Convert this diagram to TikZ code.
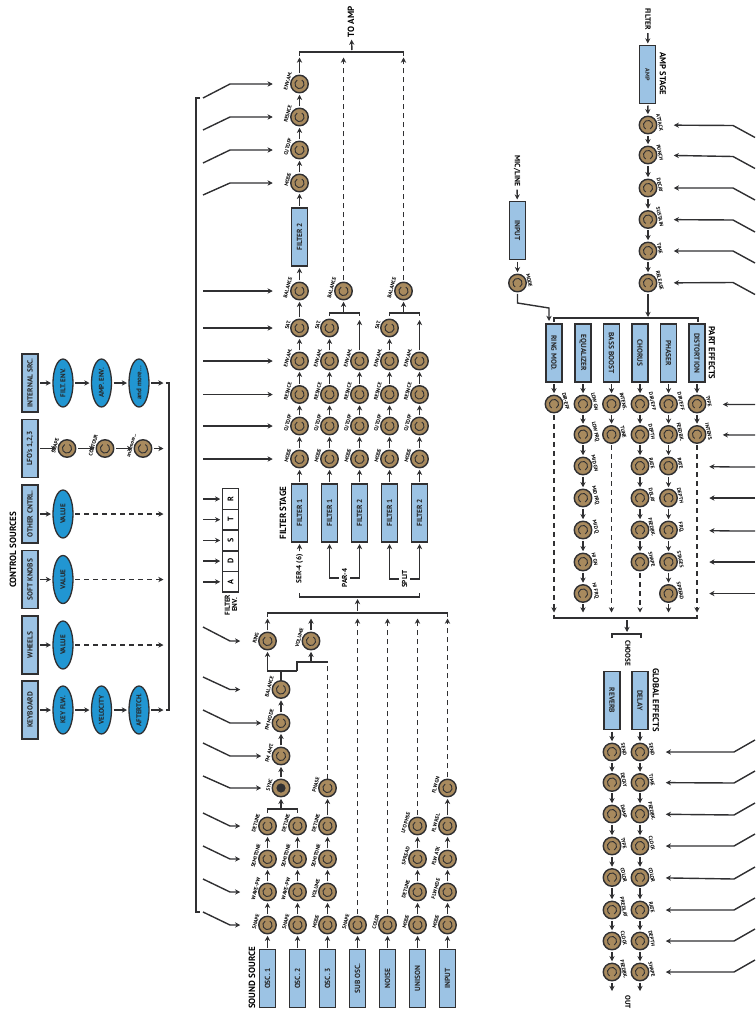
\documentclass[tikz,border=0pt]{standalone}
\usepackage{fontspec}
\setmainfont{PT Sans}
\usetikzlibrary{arrows.meta,shapes.geometric}
\definecolor{dk}{HTML}{303032}
\definecolor{boxblue}{HTML}{9CC3E4}
\definecolor{ellblue}{HTML}{2196D2}
\definecolor{knobtan}{HTML}{A88A5E}
\newcommand\krad{10.2pt}
\tikzset{
  sig/.style={draw=dk,line width=1.4pt},
  arr/.style={sig,-{Stealth[length=5.2pt,width=5.2pt]},shorten >=2pt,shorten <=2pt},
  dsh/.style={dash pattern=on 5pt off 4pt},
  lev/.style={sig,-{Stealth[length=5.2pt,width=5.2pt]}},
  boxbase/.style={draw=dk,line width=1.6pt,fill=boxblue,minimum width=58pt,minimum height=16pt,inner sep=0pt,outer sep=0pt,text=black!85,font=\fontsize{7.4}{8}\selectfont\bfseries},
  boxl/.style={boxbase,rotate=90},
  boxr/.style={boxbase,rotate=-90},
  ell/.style={ellipse,draw=dk,line width=1.3pt,fill=ellblue,minimum width=48pt,minimum height=20pt,inner sep=0pt,outer sep=0pt,rotate=90,text=black!85,font=\fontsize{7}{8}\selectfont\bfseries},
  knob/.style={circle,draw=dk,line width=1.4pt,fill=knobtan,minimum size=17.5pt,inner sep=0pt,outer sep=0pt},
  ring/.style={draw=dk,line width=0.9pt},
  klab/.style={inner sep=0pt,outer sep=0pt,anchor=south,font=\fontsize{5.2}{5.5}\selectfont\bfseries},
  envb/.style={draw=dk,line width=1.3pt,fill=white,minimum width=20.5pt,minimum height=16.5pt,inner sep=0pt,outer sep=0pt,rotate=90,font=\fontsize{8}{9}\selectfont\bfseries},
  title/.style={inner sep=1pt,rotate=90,font=\fontsize{9}{10}\selectfont\bfseries},
  titler/.style={inner sep=1pt,rotate=-90,font=\fontsize{8.6}{10}\selectfont\bfseries},
  small/.style={inner sep=1pt,rotate=90,align=center,font=\fontsize{7.2}{7.4}\selectfont\bfseries},
}
% knob on the left half of the page (ring opens upward, label on the left)
\newcommand\kl[4]{\node[knob] (#1) at (#2,#3) {};
  \draw[ring] (#1.center) ++(120:4.6pt) arc[start angle=120,end angle=420,radius=4.6pt];
  \path (#1.center) ++(165:\krad) node[klab,rotate=75] (#1-t) {#4};}
% knob on the right half of the page (ring opens downward, label on the right)
\newcommand\kr[4]{\node[knob] (#1) at (#2,#3) {};
  \draw[ring] (#1.center) ++(-60:4.6pt) arc[start angle=-60,end angle=240,radius=4.6pt];
  \path (#1.center) ++(12:\krad) node[klab,rotate=-78] (#1-t) {#4};}
% modulation lever: from free end, by knee, to a knob, stopping short of it
\newcommand\lever[6]{\coordinate (#1-s) at (#2,#3); \coordinate (#1-k) at (#4,#5);
  \draw[lev,shorten >=#6pt] (#1-s) -- (#1-k) -- (#1);}
\begin{document}
\begin{tikzpicture}[x=1pt,y=-1pt]
\useasboundingbox (0,0) rectangle (755,1012);

%% ---------- CONTROL SOURCES ----------
\node[title] (ctitle) at (13,550) {CONTROL SOURCES};
\node[boxl] (cint) at (30,383) {INTERNAL SRC.};
\node[boxl] (clfo) at (30,448.5) {LFO's 1,2,3};
\node[boxl] (coth) at (30,514) {OTHER CNTRL.};
\node[boxl] (csof) at (30,579.5) {SOFT KNOBS};
\node[boxl] (cwhe) at (30,645) {WHEELS};
\node[boxl] (ckey) at (30,710) {KEYBOARD};
\node[ell] (e1) at (63,383) {FILT. ENV.};
\node[ell] (e2) at (101.5,383) {AMP. ENV.};
\node[ell] (e3) at (139,383) {and more...};
\kl{l1}{67}{448.5}{SHAPE} \kl{l2}{105}{448.5}{CONTOUR} \kl{l3}{143}{448.5}{and more...}
\node[ell] (e4) at (63,514) {VALUE};
\node[ell] (e5) at (63,579.5) {VALUE};
\node[ell] (e6) at (63,645) {VALUE};
\node[ell] (e7) at (63,710) {KEY FLW.};
\node[ell] (e8) at (101.5,710) {VELOCITY};
\node[ell] (e9) at (139,710) {AFTERTCH.};
\foreach \a/\b in {cint/e1,e1/e2,e2/e3,clfo/l1,l1/l2,l2/l3,coth/e4,csof/e5,cwhe/e6,ckey/e7,e7/e8,e8/e9}{\draw[arr] (\a)--(\b);}
\coordinate (t1) at (165.5,383); \coordinate (t2) at (165.5,448.5); \coordinate (t3) at (165.5,514);
\coordinate (t4) at (165.5,579.5); \coordinate (t5) at (165.5,645); \coordinate (t6) at (165.5,710);
\coordinate (vtop) at (169,383); \coordinate (vbot) at (169,710);
\draw[arr] (e3)--(t1); \draw[arr] (l3)--(t2); \draw[arr] (e9)--(t6);
\draw[arr,dsh] (e4)--(t3); \draw[arr,dsh] (e5)--(t4); \draw[arr,dsh] (e6)--(t5);
\draw[sig] (t1)--(vtop)--(vbot)--(t6);

%% ---------- main modulation bus ----------
\coordinate (busT) at (200,98); \coordinate (busTc) at (196,98);
\coordinate (busB) at (200,912); \coordinate (busBc) at (196,912);
\draw[sig] (busT)--(busTc)--(busBc)--(busB);

%% ---------- FILTER ENV ----------
\node[envb] (eR) at (230.5,499) {R}; \node[envb] (eT) at (230.5,519.7) {T};
\node[envb] (eS) at (230.5,540.4) {S}; \node[envb] (eD) at (230.5,561.1) {D};
\node[envb] (eA) at (230.5,581.8) {A};
\node[small] (eTxt) at (231,605) {FILTER\\ENV.};
\foreach \n/\y in {eR/499,eT/519.7,eS/540.4,eD/561.1,eA/581.8}{
  \coordinate (\n-s) at (203,\y); \draw[lev,shorten >=2pt] (\n-s)--(\n);}

%% ---------- SOUND SOURCE ----------
\node[title] (stitle) at (252,978) {SOUND SOURCE};
\node[boxl] (bs1) at (267.5,978.5) {OSC. 1};
\node[boxl] (bs2) at (297.5,978.5) {OSC. 2};
\node[boxl] (bs3) at (327.5,978.5) {OSC. 3};
\node[boxl] (bs4) at (357.5,978.5) {SUB OSC.};
\node[boxl] (bs5) at (387.5,978.5) {NOISE};
\node[boxl] (bs6) at (417.5,978.5) {UNISON};
\node[boxl] (bs7) at (447.5,978.5) {INPUT};
\kl{s1a}{267.5}{925}{SHAPE} \kl{s1b}{267.5}{892}{WAVE-PW} \kl{s1c}{267.5}{859}{SEMITONE} \kl{s1d}{267.5}{826}{DETUNE}
\kl{s2a}{297.5}{925}{SHAPE} \kl{s2b}{297.5}{892}{WAVE-PW} \kl{s2c}{297.5}{859}{SEMITONE} \kl{s2d}{297.5}{826}{DETUNE}
\kl{s3a}{327.5}{925}{MODE} \kl{s3b}{327.5}{892}{VOLUME} \kl{s3c}{327.5}{859}{SEMITONE} \kl{s3d}{327.5}{826}{DETUNE}
\kl{phase}{327.5}{788}{PHASE}
\kl{s4a}{357.5}{925}{SHAPE} \kl{s5a}{387.5}{925}{COLOR}
\kl{s6a}{417.5}{925}{MODE} \kl{s6b}{417.5}{892}{DETUNE} \kl{s6c}{417.5}{859}{SPREAD} \kl{s6d}{417.5}{826}{LFO PHSE}
\kl{s7a}{447.5}{925}{MODE} \kl{s7b}{447.5}{892}{FLW MDE} \kl{s7c}{447.5}{859}{FLW ATK} \kl{s7d}{447.5}{826}{FLW REL}
\kl{s7e}{447.5}{788}{FLW GN}
\node[knob] (sync) at (281,788) {};
\fill[dk] (sync.center) circle[radius=4.6pt];
\path (sync.center) ++(165:\krad) node[klab,rotate=75] (sync-t) {SYNC};
\kl{fmamt}{281}{756}{FM AMT.} \kl{fmmode}{281}{723}{FM MODE} \kl{bal}{281}{689.5}{BALANCE}
\kl{ring}{267.5}{641}{RING} \kl{vol}{311}{641}{VOLUME}
\foreach \a/\b in {bs1/s1a,s1a/s1b,s1b/s1c,s1c/s1d,bs2/s2a,s2a/s2b,s2b/s2c,s2c/s2d,bs3/s3a,s3a/s3b,s3b/s3c,s3c/s3d,s3d/phase,
  bs4/s4a,bs5/s5a,bs6/s6a,s6a/s6b,s6b/s6c,s6c/s6d,bs7/s7a,s7a/s7b,s7b/s7c,s7c/s7d,s7d/s7e,sync/fmamt,fmamt/fmmode,fmmode/bal}{\draw[arr] (\a)--(\b);}
% oscillator 1+2 into sync
\coordinate (o1) at (267.5,813); \coordinate (o2) at (297.5,813); \coordinate (om) at (281,809);
\draw[sig] (o1)--++(0,-4)-|(o2);
\draw[arr,shorten <=0pt] (om)--(sync);
% balance split
\coordinate (j0) at (281,671); \coordinate (jl) at (267.5,671); \coordinate (jr) at (297,671);
\coordinate (jv) at (297,662); \coordinate (jp) at (327.5,662); \coordinate (jvol) at (311,662);
\draw[sig] (bal)--(j0);
\draw[sig] (jr)--(jv)--(jp);
\draw[arr,shorten <=0pt] (jr)--(jl)--(ring);
\draw[arr,shorten <=0pt] (jvol)--(vol);
\draw[sig,dsh] (phase)--(jp);
% source sum
\coordinate (q1) at (267.5,616.5); \coordinate (q2) at (311,616.5); \coordinate (q3) at (357.5,616.5);
\coordinate (q4) at (387.5,616.5); \coordinate (q5) at (417.5,616.5); \coordinate (q6) at (447.5,616.5);
\coordinate (qm) at (357.5,613);
\draw[sig] (q1)--++(0,-3.5)-|(q6);
\draw[arr] (ring)--(q1); \draw[arr] (vol)--(q2);
\draw[arr,dsh] (s4a)--(q3); \draw[arr,dsh] (s5a)--(q4); \draw[arr,dsh] (s6d)--(q5); \draw[arr,dsh] (s7e)--(q6);
% levers, sound source
\lever{s1a}{203}{912}{230}{925}{18.5} \lever{s1b}{203}{879}{230}{892}{18.5}
\lever{s1c}{203}{846}{230}{859}{18.5} \lever{s1d}{203}{813}{230}{826}{18.5}
\lever{sync}{203}{776}{230}{788}{11} \lever{fmamt}{203}{743}{230}{756}{11} \lever{fmmode}{203}{710}{230}{723}{11}
\lever{bal}{203}{677}{230}{689.5}{32} \lever{ring}{203}{627}{230}{641}{18.5}

%% ---------- FILTER STAGE ----------
\coordinate (fb1) at (357.5,597);
\coordinate (fbL) at (299.5,593); \coordinate (fbR) at (419.5,593);
\draw[sig] (fbL)--++(0,4)-|(fbR);
\draw[arr] (qm)--(fb1);
\node[title] (ftitle) at (283,513) {FILTER STAGE};
\node[boxl] (f1) at (299.5,513) {FILTER 1};
\node[boxl] (f2) at (329.5,513) {FILTER 1};
\node[boxl] (f3) at (359.5,513) {FILTER 2};
\node[boxl] (f4) at (389.5,513) {FILTER 1};
\node[boxl] (f5) at (419.5,513) {FILTER 2};
\node[small] (ser) at (299.5,569) {SER-4 (6)};
\node[small] (par) at (344.5,578) {PAR-4};
\node[small] (spl) at (404.5,579) {SPLIT};
\draw[arr] (ser)--(f1);
\draw[arr] (par)-|(f2); \draw[arr] (par)-|(f3);
\draw[arr] (spl)-|(f4); \draw[arr] (spl)-|(f5);
\kl{a1}{299.5}{459}{MODE} \kl{b1}{299.5}{426}{CUTOFF} \kl{c1}{299.5}{394.5}{RESNCE} \kl{d1}{299.5}{361}{ENV.AM.} \kl{e1k}{299.5}{328}{SAT.} \kl{bal1}{299.5}{291}{BALANCE}
\kl{a2}{329.5}{459}{MODE} \kl{b2}{329.5}{426}{CUTOFF} \kl{c2}{329.5}{394.5}{RESNCE} \kl{d2}{329.5}{361}{ENV.AM.} \kl{e2k}{329.5}{328}{SAT.}
\kl{a3}{359.5}{459}{MODE} \kl{b3}{359.5}{426}{CUTOFF} \kl{c3}{359.5}{394.5}{RESNCE} \kl{d3}{359.5}{361}{ENV.AM.}
\kl{a4}{389.5}{459}{MODE} \kl{b4}{389.5}{426}{CUTOFF} \kl{c4}{389.5}{394.5}{RESNCE} \kl{d4}{389.5}{361}{ENV.AM.} \kl{e4k}{389.5}{328}{SAT.}
\kl{a5}{419.5}{459}{MODE} \kl{b5}{419.5}{426}{CUTOFF} \kl{c5}{419.5}{394.5}{RESNCE} \kl{d5}{419.5}{361}{ENV.AM.}
\kl{bal2}{343.5}{291}{BALANCE} \kl{bal3}{403.5}{291}{BALANCE}
\foreach \a/\b in {f1/a1,a1/b1,b1/c1,c1/d1,d1/e1k,e1k/bal1,f2/a2,a2/b2,b2/c2,c2/d2,d2/e2k,f3/a3,a3/b3,b3/c3,c3/d3,
  f4/a4,a4/b4,b4/c4,c4/d4,d4/e4k,f5/a5,a5/b5,b5/c5,c5/d5}{\draw[arr] (\a)--(\b);}
% parallel and split sums
\coordinate (p1) at (329.5,316); \coordinate (p2) at (359.5,316); \coordinate (pm) at (343.5,313);
\coordinate (r1) at (389.5,316); \coordinate (r2) at (419.5,316); \coordinate (rm) at (403.5,313);
\coordinate (p3) at (359.5,318); \coordinate (r3) at (419.5,318);
\draw[sig] (p1)--++(0,-3)-|(p2); \draw[sig] (r1)--++(0,-3)-|(r2);
\draw[arr] (d3)--(p3); \draw[arr] (d5)--(r3);
\draw[arr,shorten <=0pt] (pm)--(bal2); \draw[arr,shorten <=0pt] (rm)--(bal3);
% second filter
\node[boxl] (f6) at (299.5,237) {FILTER 2};
\kl{a6}{299.5}{183}{MODE} \kl{b6}{299.5}{150}{CUTOFF} \kl{c6}{299.5}{117}{RESNCE} \kl{d6}{299.5}{84}{ENV.AM.}
\foreach \a/\b in {bal1/f6,f6/a6,a6/b6,b6/c6,c6/d6}{\draw[arr] (\a)--(\b);}
\coordinate (u1) at (299.5,55.5); \coordinate (u2) at (343.5,55.5); \coordinate (u3) at (403.5,55.5);
\coordinate (um) at (352,52);
\draw[sig] (u1)--++(0,-3.5)-|(u3);
\draw[arr] (d6)--(u1);
\draw[arr,dsh] (bal2)--(u2); \draw[arr,dsh] (bal3)--(u3);
\node[title] (toamp) at (351,22) {TO AMP};
\draw[arr,shorten >=1pt] (um)--(toamp);
% levers, filter
\lever{a6}{203}{195}{230}{183}{18} \lever{b6}{203}{163}{230}{150}{18}
\lever{c6}{203}{130}{230}{117}{18} \lever{d6}{203}{98}{230}{84}{18}
\lever{bal1}{203}{291}{230}{291}{18} \lever{e1k}{203}{328}{230}{328}{18} \lever{d1}{203}{361}{230}{361}{18}
\lever{c1}{203}{394.5}{230}{394.5}{18} \lever{b1}{203}{426}{230}{426}{18} \lever{a1}{203}{459}{230}{459}{18}

%% ---------- AMP STAGE ----------
\node[titler,font=\fontsize{7.6}{8}\selectfont\bfseries] (filt) at (648,19) {FILTER};
\node[boxr,font=\fontsize{6}{6.5}\selectfont\bfseries] (amp) at (647.5,74.5) {AMP};
\node[titler] (atitle) at (663,74) {AMP STAGE};
\kr{m1}{648}{125}{ATTACK} \kr{m2}{648}{155}{PUNCH} \kr{m3}{648}{188}{DECAY}
\kr{m4}{648}{219.5}{SUSTAIN} \kr{m5}{648}{251}{TIME} \kr{m6}{648}{283}{RELEASE}
\foreach \a/\b in {filt/amp,amp/m1,m1/m2,m2/m3,m3/m4,m4/m5,m5/m6}{\draw[arr] (\a)--(\b);}
\lever{m1}{755}{137.5}{733}{125.5}{17} \lever{m2}{755}{168.5}{733}{156.5}{17} \lever{m3}{755}{200}{733}{188}{17}
\lever{m4}{755}{232}{733}{220}{17} \lever{m5}{755}{263}{733}{251}{17} \lever{m6}{755}{294.5}{733}{282.5}{17}

\node[titler,font=\fontsize{7.6}{8}\selectfont\bfseries] (mic) at (517,171) {MIC/LINE};
\node[boxr] (inp) at (517.5,230.5) {INPUT};
\kr{imode}{517.5}{283}{MODE}
\draw[arr] (mic)--(inp); \draw[arr] (inp)--(imode);
\coordinate (w1) at (517.5,303); \coordinate (w2) at (549,308); \coordinate (w3) at (549,322);
\draw[arr,shorten >=1pt] (imode)--(w1)--(w2)--(w3);

%% ---------- PART EFFECTS ----------
\coordinate (pa) at (554,322); \coordinate (pb) at (698,322); \coordinate (pc) at (648,318);
\draw[sig] (pa)--++(0,-4)-|(pb);
\draw[arr,shorten >=1pt] (m6)--(pc);
\node[titler] (ptitle) at (712,353) {PART EFFECTS};
\node[boxr] (x1) at (554,353) {RING MOD.};
\node[boxr] (x2) at (583,353) {EQUALIZER};
\node[boxr] (x3) at (611.5,353) {BASS BOOST};
\node[boxr] (x4) at (640,353) {CHORUS};
\node[boxr] (x5) at (668.5,353) {PHASER};
\node[boxr] (x6) at (697,353) {DISTORTION};
\kr{x1a}{554}{404}{DIR-EFF}
\kr{x2a}{583}{404}{LOW GN} \kr{x2b}{583}{434.5}{LOW FRQ} \kr{x2c}{583}{466}{MID GN} \kr{x2d}{583}{498}{MID FRQ} \kr{x2e}{583}{530}{MID Q} \kr{x2f}{583}{562}{HI GN} \kr{x2g}{583}{593.5}{HI FRQ}
\kr{x3a}{611.5}{404}{INTENS.} \kr{x3b}{611.5}{434.5}{TUNE}
\kr{x4a}{640}{404}{DIR/EFF} \kr{x4b}{640}{434.5}{DEPTH} \kr{x4c}{640}{466}{RATE} \kr{x4d}{640}{498}{DELAY} \kr{x4e}{640}{530}{FEEDBK.} \kr{x4f}{640}{562}{SHAPE}
\kr{x5a}{668.5}{404}{DIR/EFF} \kr{x5b}{668.5}{434.5}{FEEDBK.} \kr{x5c}{668.5}{466}{RATE} \kr{x5d}{668.5}{498}{DEPTH} \kr{x5e}{668.5}{530}{FRQ.} \kr{x5f}{668.5}{562}{STAGES} \kr{x5g}{668.5}{593.5}{SPREAD}
\kr{x6a}{697}{404}{TYPE} \kr{x6b}{697}{434.5}{INTENS.}
\foreach \a/\b in {x1/x1a,x2/x2a,x2a/x2b,x2b/x2c,x2c/x2d,x2d/x2e,x2e/x2f,x2f/x2g,x3/x3a,x3a/x3b,
  x4/x4a,x4a/x4b,x4b/x4c,x4c/x4d,x4d/x4e,x4e/x4f,x5/x5a,x5a/x5b,x5b/x5c,x5c/x5d,x5d/x5e,x5e/x5f,x5f/x5g,x6/x6a,x6a/x6b}{\draw[arr] (\a)--(\b);}
\coordinate (z1) at (554,614.5); \coordinate (z2) at (583,614.5); \coordinate (z3) at (611.5,614.5);
\coordinate (z4) at (640,614.5); \coordinate (z5) at (668.5,614.5); \coordinate (z6) at (697,614.5);
\coordinate (zm) at (627,618); \coordinate (zc) at (627,634);
\draw[sig] (z1)--++(0,3.5)-|(z6);
\draw[arr,dsh] (x1a)--(z1); \draw[arr] (x2g)--(z2); \draw[arr,dsh] (x3b)--(z3);
\draw[arr,dsh] (x4f)--(z4); \draw[arr] (x5g)--(z5); \draw[arr,dsh] (x6b)--(z6);
\draw[arr] (zm)--(zc);
\lever{x6a}{755}{404.5}{733}{404.5}{17} \lever{x6b}{755}{435}{733}{435}{17}
\lever{x5c}{755}{467}{733}{467}{32} \lever{x5d}{755}{498}{733}{498}{32} \lever{x5e}{755}{531}{733}{531}{32}
\lever{x5f}{755}{562}{733}{562}{32} \lever{x5g}{755}{593.5}{733}{593.5}{32}

%% ---------- GLOBAL EFFECTS ----------
\coordinate (ch1) at (612,638); \coordinate (ch2) at (641,638);
\draw[sig] (ch1)--++(0,-4)-|(ch2);
\node[titler,font=\fontsize{7.2}{8}\selectfont\bfseries] (choose) at (628,653) {CHOOSE};
\node[titler] (gtitle) at (656,700) {GLOBAL EFFECTS};
\node[boxr] (rv) at (612,700.5) {REVERB};
\node[boxr] (dl) at (640,700.5) {DELAY};
\kr{r1}{612}{752}{SEND} \kr{r2}{612}{782.5}{DECAY} \kr{r3}{612}{814}{DAMP} \kr{r4}{612}{846}{TYPE} \kr{r5}{612}{877.5}{COLOR} \kr{r6}{612}{910}{PREDLAY} \kr{r7}{612}{941}{CLOCK} \kr{r8}{612}{972}{FEEDBK.}
\kr{g1}{640}{752}{SEND} \kr{g2}{640}{782.5}{TIME} \kr{g3}{640}{814}{FEEDBK.} \kr{g4}{640}{846}{CLOCK} \kr{g5}{640}{877.5}{COLOR} \kr{g6}{640}{910}{RATE} \kr{g7}{640}{941}{DEPTH} \kr{g8}{640}{972}{SHAPE}
\foreach \a/\b in {rv/r1,r1/r2,r2/r3,r3/r4,r4/r5,r5/r6,r6/r7,r7/r8,dl/g1,g1/g2,g2/g3,g3/g4,g4/g5,g5/g6,g6/g7,g7/g8}{\draw[arr] (\a)--(\b);}
\coordinate (oa) at (612,993); \coordinate (ob) at (640,993);
\draw[arr] (r8)--(oa); \draw[arr] (g8)--(ob);
\node[titler,font=\fontsize{7.2}{8}\selectfont\bfseries] (out) at (628,1002) {OUT};
\lever{g1}{755}{740}{734}{752}{17} \lever{g2}{755}{771}{734}{783}{17} \lever{g3}{755}{803}{734}{815}{17}
\lever{g4}{755}{834}{734}{846}{17} \lever{g5}{755}{867}{734}{879}{17} \lever{g6}{755}{898}{734}{910}{17}
\lever{g7}{755}{929}{734}{941}{17} \lever{g8}{755}{960}{734}{972}{17}
\end{tikzpicture}
\end{document}
